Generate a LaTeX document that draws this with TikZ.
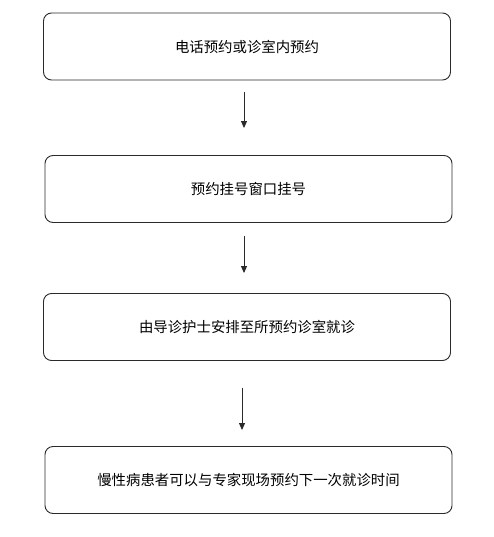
\documentclass[tikz,border=0pt]{standalone}
\usepackage{fontspec}
\usepackage{tikz}
\usetikzlibrary{arrows.meta,positioning}
\newfontfamily\cjk{Noto Sans CJK SC}
\definecolor{edge}{HTML}{2A2A2A}
\tikzset{
  box/.style={draw=edge, line width=0.9pt, rounded corners=8pt, minimum width=407pt,
              minimum height=67pt, inner sep=0pt, font=\cjk\fontsize{14.4pt}{17pt}\selectfont, align=center},
  arr/.style={-{Triangle[length=7pt, width=6pt]}, line width=0.9pt, edge}
}

\begin{document}
\begin{tikzpicture}[x=1pt, y=-1pt]
  \useasboundingbox (0,0) rectangle (494,537);
  \node[box] (call)   at (247,46.5)  {电话预约或诊室内预约};
  \node[box] (reg)    at (248.5,189) {预约挂号窗口挂号};
  \node[box] (guide)  at (247,327)   {由导诊护士安排至所预约诊室就诊};
  \node[box] (next)   at (248.5,480) {慢性病患者可以与专家现场预约下一次就诊时间};
  \draw[arr, shorten <=12pt, shorten >=27pt] ([xshift=-3pt]call.south) -- ([xshift=-4.5pt]reg.north);
  \draw[arr, shorten <=13pt, shorten >=20pt] ([xshift=-4.5pt]reg.south) -- ([xshift=-3pt]guide.north);
  \draw[arr, shorten <=27pt, shorten >=16pt] ([xshift=-5pt]guide.south) -- ([xshift=-6.5pt]next.north);
\end{tikzpicture}
\end{document}
